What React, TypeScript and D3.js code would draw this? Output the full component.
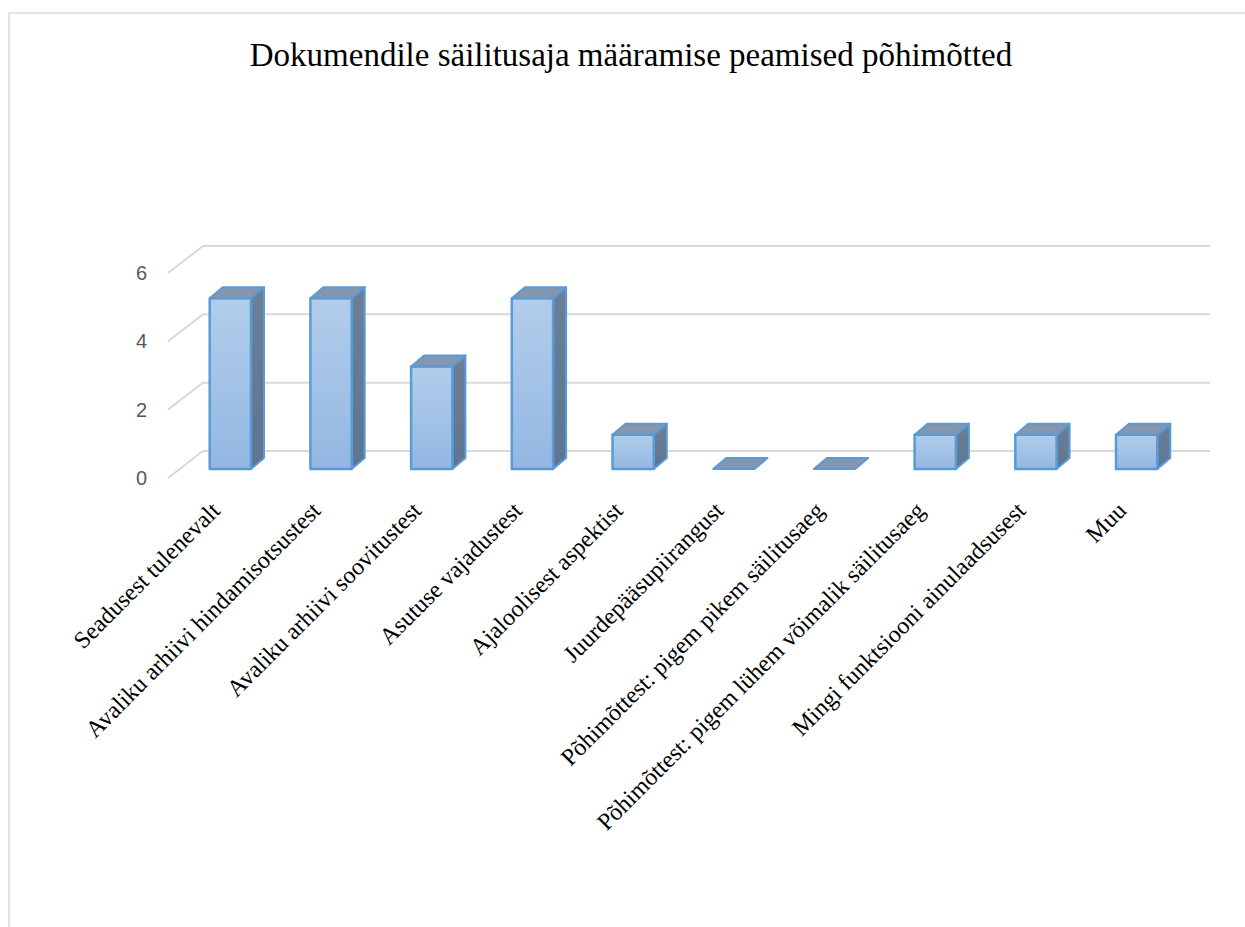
import React from "react";
import * as d3 from "d3";

const categories = [
  "Seadusest tulenevalt",
  "Avaliku arhiivi hindamisotsustest",
  "Avaliku arhiivi soovitustest",
  "Asutuse vajadustest",
  "Ajaloolisest aspektist",
  "Juurdepääsupiirangust",
  "Põhimõttest: pigem pikem säilitusaeg",
  "Põhimõttest: pigem lühem võimalik säilitusaeg",
  "Mingi funktsiooni ainulaadsusest",
  "Muu",
];
const values = [5, 5, 3, 5, 1, 0, 0, 1, 1, 1];
const yTicks = [0, 2, 4, 6];
const title = "Dokumendile säilitusaja määramise peamised põhimõtted";

const W = 1245;
const H = 927;
// 3D layout
const left = 168;
const right = 1175;
const wallDX = 35;
const wallDY = -27;
const barDX = 12; // front face shift into depth
const barDY = -9;
const depthDX = 13;
const depthDY = -11;

export default function App() {
  const x = d3.scaleBand<string>().domain(categories).range([left, right]).paddingInner(0.59).paddingOuter(0.295);
  const y = d3.scaleLinear().domain([0, 6]).range([478, 273]);
  const bw = x.bandwidth();

  return (
    <svg
      width={W}
      height={H}
      style={{ position: "absolute", left: 0, top: 0, background: "#fff" }}
    >
      <defs>
        <linearGradient id="front" x1="0" y1="0" x2="0" y2="1">
          <stop offset="0" stopColor="#B2CDEB" />
          <stop offset="1" stopColor="#93B7E2" />
        </linearGradient>
        <linearGradient id="side" x1="0" y1="0" x2="0" y2="1">
          <stop offset="0" stopColor="#6B7F98" />
          <stop offset="1" stopColor="#5D7591" />
        </linearGradient>
      </defs>
      <rect x={9} y={13} width={W + 50} height={H + 50} fill="#fff" stroke="#D9D9D9" strokeWidth={1.5} />
      <text
        x={631}
        y={66}
        textAnchor="middle"
        fontFamily="'Liberation Serif', 'Times New Roman', serif"
        fontSize={33}
        fill="#000"
      >
        {title}
      </text>
      {/* gridlines */}
      {yTicks.map((t) => (
        <g key={t}>
          <path
            d={`M${left},${y(t)} L${left + wallDX},${y(t) + wallDY} L${right + wallDX},${y(t) + wallDY}`}
            fill="none"
            stroke="#D9D9D9"
            strokeWidth={2}
          />
          <text
            x={147}
            y={y(t)}
            dy="0.35em"
            textAnchor="end"
            fontFamily="'Liberation Sans', Arial, sans-serif"
            fontSize={20}
            fill="#595959"
          >
            {t}
          </text>
        </g>
      ))}
      {/* bars */}
      {categories.map((c, i) => {
        const v = values[i];
        const x0 = (x(c) as number) + barDX;
        const x1 = x0 + bw;
        const yb = y(0) + barDY;
        const yt = y(v) + barDY;
        const top = `M${x0},${yt} L${x0 + depthDX},${yt + depthDY} L${x1 + depthDX},${yt + depthDY} L${x1},${yt} Z`;
        const side = `M${x1},${yt} L${x1 + depthDX},${yt + depthDY} L${x1 + depthDX},${yb + depthDY} L${x1},${yb} Z`;
        return (
          <g key={c} strokeLinejoin="round">
            {v > 0 && <path d={side} fill="url(#side)" stroke="#5B9BD5" strokeWidth={2} />}
            {v > 0 && (
              <rect x={x0} y={yt} width={bw} height={yb - yt} fill="url(#front)" stroke="#5B9BD5" strokeWidth={2.5} />
            )}
            <path d={top} fill="#8497B0" stroke="#5B9BD5" strokeWidth={2} />
          </g>
        );
      })}
      {/* category labels */}
      {categories.map((c) => {
        const cx = (x(c) as number) + barDX + bw / 2 - 9;
        const cy = 512;
        return (
          <text
            key={c}
            transform={`translate(${cx},${cy}) rotate(-45)`}
            textAnchor="end"
            fontFamily="'Liberation Serif', 'Times New Roman', serif"
            fontSize={24}
            fill="#000"
          >
            {c}
          </text>
        );
      })}
    </svg>
  );
}
